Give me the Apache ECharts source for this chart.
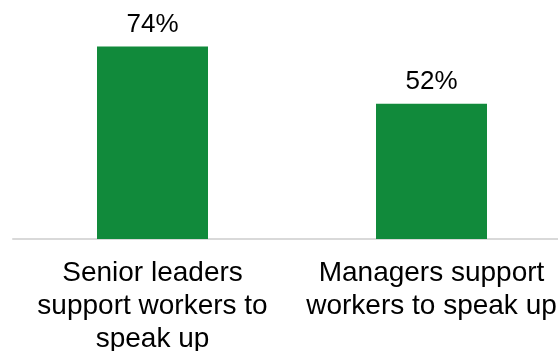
<!DOCTYPE html>
<html>
<head>
<meta charset="utf-8">
<script src="https://cdn.jsdelivr.net/npm/echarts@6/dist/echarts.min.js"></script>
<style>
html, body { margin: 0; padding: 0; background: #ffffff; }
#chart { width: 558px; height: 351px; }
</style>
</head>
<body>
<div id="chart"></div>
<script>
// Share of respondents agreeing with each statement
const categories = [
  'Senior leaders\nsupport workers to\nspeak up',
  'Managers support\nworkers to speak up'
];
const values = [74, 52];

const chart = echarts.init(document.getElementById('chart'), null, { renderer: 'canvas' });
chart.setOption({
  animation: false,
  grid: { left: 13, right: -13, top: 31, bottom: 112, outerBoundsMode: 'none', containLabel: false },
  xAxis: {
    type: 'category',
    data: categories,
    axisLine: { show: true, lineStyle: { color: '#d9d9d9', width: 2 } },
    axisTick: { show: false },
    axisLabel: {
      interval: 0,
      color: '#000000',
      fontFamily: 'Liberation Sans, Arial, sans-serif',
      fontSize: 28,
      lineHeight: 33,
      margin: 18
    }
  },
  yAxis: {
    type: 'value',
    min: 0,
    max: 80,
    show: false,
    splitLine: { show: false }
  },
  series: [{
    type: 'bar',
    data: values,
    barWidth: 111,
    itemStyle: { color: '#118a3b' },
    label: {
      show: true,
      position: 'top',
      distance: 9,
      formatter: '{c}%',
      color: '#000000',
      fontFamily: 'Liberation Sans, Arial, sans-serif',
      fontSize: 26
    }
  }]
});
</script>
</body>
</html>
